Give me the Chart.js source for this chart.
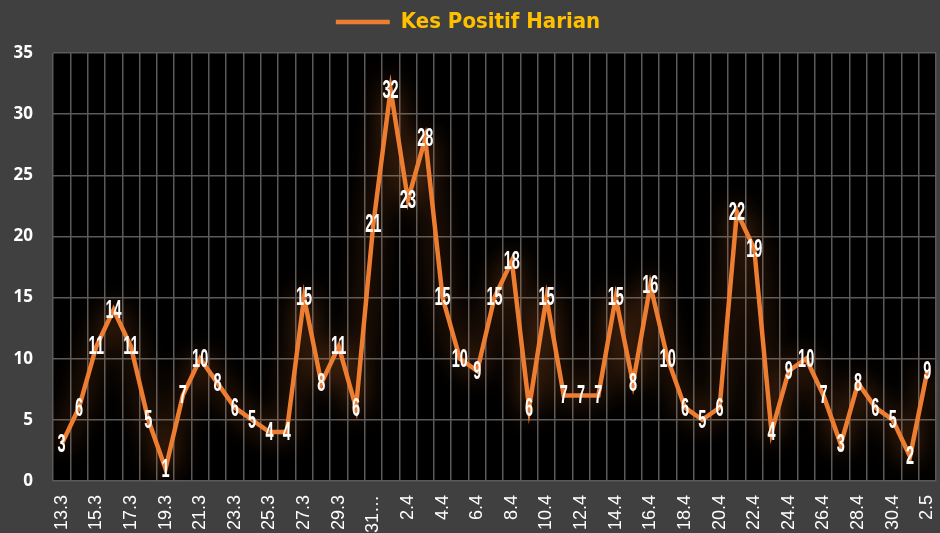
<!DOCTYPE html>
<html><head><meta charset="utf-8">
<script src="https://cdn.jsdelivr.net/npm/chart.js@4/dist/chart.umd.min.js"></script>
<style>html,body{margin:0;padding:0;background:#404040;}#wrap{width:940px;height:533px;}</style>
</head><body><div id="wrap"><canvas id="c" width="940" height="533"></canvas></div>
<script>
const categories = ['13.3','14.3','15.3','16.3','17.3','18.3','19.3','20.3','21.3','22.3','23.3','24.3','25.3','26.3','27.3','28.3','29.3','30.3','31.3',
 '1.4','2.4','3.4','4.4','5.4','6.4','7.4','8.4','9.4','10.4','11.4','12.4','13.4','14.4','15.4','16.4','17.4','18.4','19.4','20.4','21.4','22.4','23.4','24.4','25.4','26.4','27.4','28.4','29.4','30.4','1.5','2.5'];
const positiveCases = [3,6,11,14,11,5,1,7,10,8,6,5,4,4,15,8,11,6,21,32,23,28,15,10,9,15,18,6,15,7,7,7,15,8,16,10,6,5,6,22,19,4,9,10,7,3,8,6,5,2,9];
const xTickLabels = ['13.3','15.3','17.3','19.3','21.3','23.3','25.3','27.3','29.3','31…','2.4','4.4','6.4','8.4','10.4','12.4','14.4','16.4','18.4','20.4','22.4','24.4','26.4','28.4','30.4','2.5'];
const yTicks = [0,5,10,15,20,25,30,35];

const spacerPlugin = {
  id:'spacer',
  start(chart){
    const box = {
      position:'top', weight:500, fullSize:true, options:{},
      top:0,left:0,right:0,bottom:0,width:0,height:0,
      isHorizontal(){return true;},
      update(maxWidth){ this.width=maxWidth; this.height=10; return {width:this.width,height:this.height}; },
      getPadding(){ return {top:0,left:0,right:0,bottom:0}; },
      draw(){}
    };
    Chart.layouts.addBox(chart, box);
  }
};
const bgPlugin = {
  id:'bg',
  beforeDraw(chart){
    const {ctx, chartArea:a} = chart;
    ctx.save(); ctx.fillStyle='#000'; ctx.fillRect(a.left,a.top,a.right-a.left,a.bottom-a.top); ctx.restore();
  }
};
const glowPlugin = {
  id:'glow',
  beforeDatasetsDraw(chart){
    const ctx=chart.ctx; ctx.save();
    ctx.shadowColor='rgba(237,125,49,0.75)'; ctx.shadowBlur=26;
  },
  afterDatasetsDraw(chart){ chart.ctx.restore(); }
};
const labelPlugin = {
  id:'vals',
  afterDatasetsDraw(chart){
    const ctx=chart.ctx; const meta=chart.getDatasetMeta(0);
    ctx.save();
    ctx.fillStyle='#fff'; ctx.textAlign='center'; ctx.textBaseline='middle';
    ctx.font='bold 25px "Liberation Sans", Arial, sans-serif';
    meta.data.forEach((p,i)=>{
      ctx.save(); ctx.translate(p.x, p.y+1); ctx.scale(0.58,1);
      ctx.fillText(String(chart.data.datasets[0].data[i]),0,0);
      ctx.restore();
    });
    ctx.restore();
  }
};

new Chart(document.getElementById('c'),{
  type:'line',
  data:{labels:categories,datasets:[{label:'Kes Positif Harian',data:positiveCases,borderColor:'#ED7D31',backgroundColor:'#ED7D31',borderWidth:4.5,pointRadius:0,tension:0,fill:false}]},
  options:{
    responsive:false,animation:false,
    layout:{autoPadding:false,padding:{left:0,right:4,top:1,bottom:0}},
    plugins:{
      legend:{display:true,position:'top',labels:{usePointStyle:true,pointStyle:'line',pointStyleWidth:54,boxWidth:54,boxHeight:22,color:'#FFC000',padding:10,
        font:{family:'"DejaVu Sans Condensed", sans-serif',size:22,weight:'bold'}}},
      tooltip:{enabled:false}
    },
    scales:{
      x:{offset:true,afterFit(s){s.height=52;s.paddingLeft=0;s.paddingRight=0;},grid:{offset:true,color:'#5a5a5a',lineWidth:1.5,drawTicks:false},border:{display:false},
        ticks:{autoSkip:false,maxRotation:90,minRotation:90,padding:14,color:'#fff',font:{family:'"Liberation Sans", Arial, sans-serif',size:18},
          callback:(v,i)=> i%2===0 ? xTickLabels[i/2] : ''}},
      y:{min:0,max:35,afterFit(s){s.width=53;s.paddingTop=0;s.paddingBottom=0;},afterBuildTicks(s){s.ticks=yTicks.map(v=>({value:v}));},grid:{color:'#5a5a5a',lineWidth:1.5,drawTicks:false},border:{display:false},
        ticks:{padding:20,color:'#fff',font:{family:'"Open Sans", sans-serif',size:17,weight:'bold'}}}
    }
  },
  plugins:[spacerPlugin,bgPlugin,glowPlugin,labelPlugin]
});
</script></body></html>
